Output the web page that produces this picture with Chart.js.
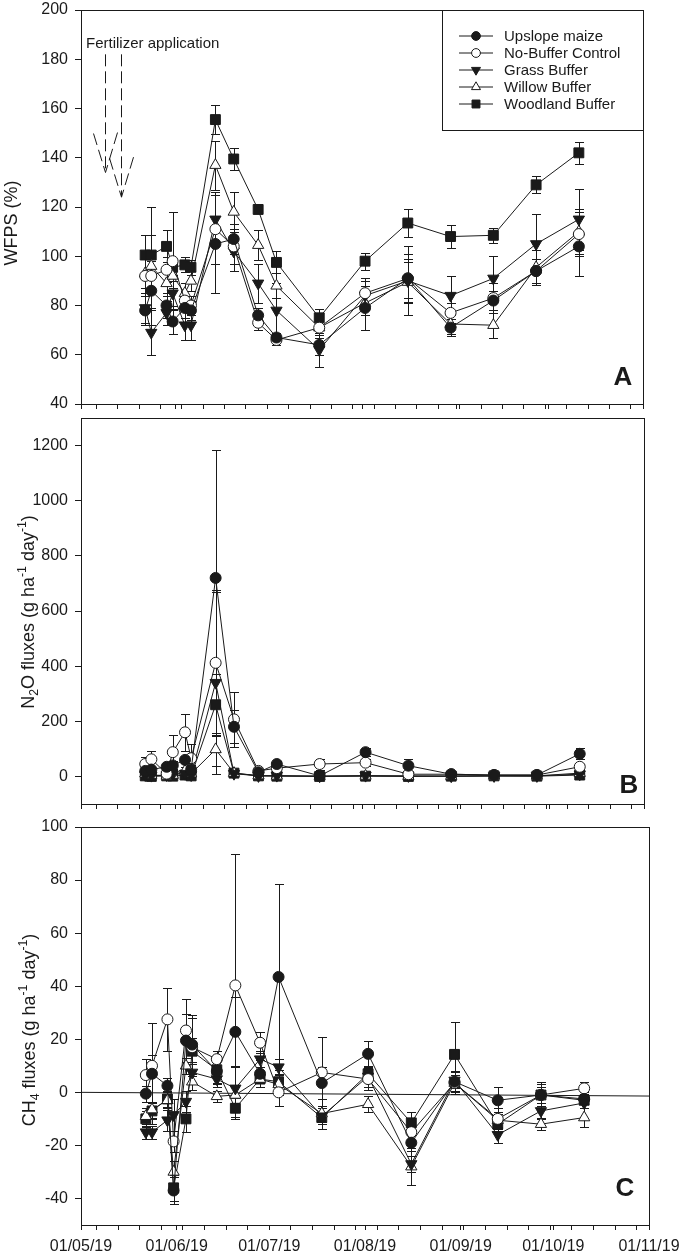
<!DOCTYPE html>
<html>
<head>
<meta charset="utf-8">
<title>WFPS, N2O and CH4 fluxes</title>
<script src="https://cdn.jsdelivr.net/npm/chart.js@4.4.1/dist/chart.umd.min.js"></script>
<style>
  body { margin: 0; background: #fff; }
  #wrap { position: relative; width: 680px; height: 1256px; }
  canvas { position: absolute; left: 0; }
</style>
</head>
<body>
<div id="wrap">
  <canvas id="chartA" width="680" height="412" style="top:0px"></canvas>
  <canvas id="chartB" width="680" height="402" style="top:410px"></canvas>
  <canvas id="chartC" width="680" height="444" style="top:812px"></canvas>
</div>
<script>
// DATA
const seriesNames = ["Upslope maize", "No-Buffer Control", "Grass Buffer", "Willow Buffer", "Woodland Buffer"];
const sampleDates = ["2019-05-22", "2019-05-24", "2019-05-29", "2019-05-31", "2019-06-04", "2019-06-06",
  "2019-06-14", "2019-06-20", "2019-06-28", "2019-07-04", "2019-07-18", "2019-08-02", "2019-08-16",
  "2019-08-30", "2019-09-13", "2019-09-27", "2019-10-11"];
const monthDates = ["2019-05-01", "2019-06-01", "2019-07-01", "2019-08-01", "2019-09-01", "2019-10-01", "2019-11-01"];
const monthLabels = ["01/05/19", "01/06/19", "01/07/19", "01/08/19", "01/09/19", "01/10/19", "01/11/19"];

// A: WFPS (%)
const upslopeA = [78, 86, 80, 73.5, 79, 78, 105, 107, 76, 67, 64, 79, 91, 71, 82, 94, 104];
const upslopeAErr = [6, 7, 5, 5, 4, 4, 20, 6, 3, 2, 4, 9, 8, 3.5, 4, 5, 12];
const noBufferA = [92, 92, 94.5, 98, 82, 80, 111, 104, 73, 66, 71, 85, 91, 77, 83, 94, 109];
const noBufferAErr = [7, 6, 5, 20, 4, 4, 14, 7, 3, 2, 4, 6, 10, 4, 6, 5, 9];
const grassA = [79, 69, 77, 85, 72, 72, 115, 102, 89, 78, 62, 84, 90, 84, 91, 105, 115];
const grassAErr = [6, 9, 5, 5, 6, 6, 11, 8, 8, 11, 7, 6, 14, 8, 9, 12, 12.5];
const willowA = [93, 96, 89, 92, 85, 90, 137, 118, 104.5, 88, 71, 81, 89.5, 72.5, 72, 95.5, 110];
const willowAErr = [6, 24, 5, 5, 4, 4, 10, 8, 6, 5, 4, 5, 8, 4, 5, 7, 9];
const woodlandA = [100.5, 100.5, 104, 95.5, 96.5, 95.5, 155.5, 139.5, 119, 97.5, 75, 98, 113.5, 108, 108.5, 129, 142];
const woodlandAErr = [8, 8, 6.5, 3, 3, 3, 6, 4.5, 1.5, 4.5, 3.5, 3.5, 5.5, 4.5, 3, 3.5, 4.5];
const ticksA = [40, 60, 80, 100, 120, 140, 160, 180, 200];

// B: N2O fluxes
const upslopeB = [20, 25, 35, 40, 60, 25, 720, 180, 15, 45, 2, 88, 39, 8, 5, 5, 82];
const upslopeBErr = [10, 10, 10, 15, 10, 15, 465, 60, 5, 10, 3, 15, 25, 5, 4, 4, 20];
const noBufferB = [45, 62, 10, 88, 160, 66, 412, 207, 20, 30, 45, 50, 8, 8, 5, 5, 35];
const noBufferBErr = [25, 30, 5, 62, 68, 50, 265, 100, 5, 8, 20, 12, 5, 4, 4, 4, 10];
const grassB = [5, 3, 5, 8, 10, 5, 340, 10, 2, 3, 1, 3, 2, 1, 2, 2, 8];
const grassBErr = [5, 5, 5, 5, 5, 5, 330, 5, 2, 2, 2, 3, 3, 2, 2, 2, 5];
const willowB = [10, 5, 2, 5, 20, 10, 98, 12, 3, 2, 1, 2, 1, 1, 2, 2, 12];
const willowBErr = [8, 5, 3, 5, 15, 8, 60, 5, 2, 2, 2, 2, 2, 2, 2, 2, 6];
const woodlandB = [2, 0, 2, 1, 5, 2, 260, 12, 2, 1, 0, 1, 0, 1, 2, 1, 5];
const woodlandBErr = [5, 5, 5, 5, 5, 5, 110, 8, 2, 2, 2, 2, 2, 2, 2, 2, 4];
const ticksB = [0, 200, 400, 600, 800, 1000, 1200];

// C: CH4 fluxes
const upslopeC = [-0.5, 7, 2.5, -37, 19.5, 18, 8, 22.8, 7, 43.5, 3.5, 14.5, -19, 4, -3, -1, -2.5];
const upslopeCErr = [3, 19, 3, 5, 10, 11, 5, 13, 5, 35, 6, 5, 3, 4, 5, 3, 2];
const noBufferC = [6.5, 10, 27.5, -18.5, 23.3, 17, 12.5, 40.3, 18.7, 0, 7.5, 5, -15, 3.5, -10, -1, 1.5];
const noBufferCErr = [6, 4, 12, 4, 11.7, 11, 3, 49.5, 4, 5, 13.5, 4, 5, 4, 4, 4, 2.5];
const grassC = [-15, -15, -10.5, -8.5, -3.5, 7.5, 5, 1.5, 12.5, 9.5, -9, 6, -27, 4.5, -16, -7, -4];
const grassCErr = [2.5, 2.5, 4, 6, 4, 4, 3, 8, 3, 3, 3, 4, 3, 3, 3, 3, 2];
const willowC = [-9, -6.5, -3, -30, 10, 4, -1.5, -1, 5, 3, -8, -4.5, -28, 3.5, -10.5, -12, -9.5];
const willowCErr = [3, 3, 3, 4, 3, 3, 2, 3, 3, 4, 3, 3, 7, 3, 3, 2.3, 3.5];
const woodlandC = [-10, -7, -2.5, -36, -10, 15.5, 8.5, -6, 5, 4, -9.5, 7, -11.5, 14.3, -12, -1, -3];
const woodlandCErr = [3, 3, 3, 5, 5, 5, 5, 4, 3, 3, 4.5, 3, 4, 12.3, 3, 5, 3];
const trendDates = ["2019-05-01", "2019-11-01"];
const trendC = [0, -1.4];
const ticksC = [-40, -20, 0, 20, 40, 60, 80, 100];

// fertilizer arrows (dates, arrow top and tip in WFPS units)
const fertDates = ["2019-05-09", "2019-05-14"];
const fertTop = 182;
const fertTips = [134, 124];

// HELPERS
const FONT = "'Liberation Sans', Arial, Helvetica, sans-serif";
const INK = "#1a1a1a";
const DAY = 86400000;
const START = Date.UTC(2019, 4, 1);
function dayOf(s) {
  const p = s.split("-").map(Number);
  return (Date.UTC(p[0], p[1] - 1, p[2]) - START) / DAY;
}
const sampleDays = sampleDates.map(dayOf);
const monthDays = monthDates.map(dayOf);
const xMax = monthDays[monthDays.length - 1];

// weekly minor ticks (mondays) plus month ticks
let xTickDays = monthDays.slice();
for (let d = 5; d < xMax; d += 7) {
  if (monthDays.indexOf(d) < 0) xTickDays.push(d);
}
xTickDays.sort((a, b) => a - b);

const styles = [
  { pointStyle: "circle", rotation: 0, radius: 5.5, fill: INK },
  { pointStyle: "circle", rotation: 0, radius: 5.5, fill: "#fff" },
  { pointStyle: "triangle", rotation: 180, radius: 6.5, fill: INK },
  { pointStyle: "triangle", rotation: 0, radius: 6.5, fill: "#fff" },
  { pointStyle: "rect", rotation: 0, radius: 7, fill: INK },
];

function buildSets(valuesList, errList) {
  return valuesList.map((vals, k) => ({
    label: seriesNames[k],
    data: sampleDays.map((d, i) => ({ x: d, y: vals[i] })),
    errors: errList[k],
    borderColor: INK,
    borderWidth: 1,
    pointStyle: styles[k].pointStyle,
    pointRotation: styles[k].rotation,
    pointRadius: styles[k].radius,
    pointHoverRadius: styles[k].radius,
    pointBackgroundColor: styles[k].fill,
    pointBorderColor: INK,
    pointBorderWidth: 1,
    tension: 0,
    fill: false,
  }));
}

function drawVTitle(ctx, parts, cx, cy, size) {
  ctx.save();
  ctx.translate(cx, cy);
  ctx.rotate(-Math.PI / 2);
  let total = 0;
  parts.forEach((p) => {
    ctx.font = (p.s ? size * 0.68 : size) + "px " + FONT;
    p.w = ctx.measureText(p.t).width;
    total += p.w;
  });
  let x = -total / 2;
  ctx.textBaseline = "middle";
  ctx.textAlign = "left";
  ctx.fillStyle = INK;
  parts.forEach((p) => {
    ctx.font = (p.s ? size * 0.68 : size) + "px " + FONT;
    const dy = p.s === "sub" ? size * 0.3 : p.s === "sup" ? -size * 0.38 : 0;
    ctx.fillText(p.t, x, dy);
    x += p.w;
  });
  ctx.restore();
}

function drawMarker(ctx, st, x, y, r) {
  ctx.fillStyle = st.fill;
  ctx.strokeStyle = INK;
  ctx.lineWidth = 1;
  Chart.helpers.drawPoint(ctx, { pointStyle: st.pointStyle, rotation: st.rotation, radius: r, borderWidth: 1 }, x, y);
}

// PLUGIN: error bars, frame, letters, titles, legend, arrows
const panelPlugin = {
  id: "panel",
  beforeDatasetsDraw(chart) {
    const ctx = chart.ctx;
    const ys = chart.scales.y;
    ctx.save();
    ctx.strokeStyle = INK;
    ctx.lineWidth = 1;
    chart.data.datasets.forEach((ds, di) => {
      if (!ds.errors) return;
      const meta = chart.getDatasetMeta(di);
      meta.data.forEach((pt, i) => {
        const v = ds.data[i].y;
        const e = ds.errors[i];
        const x = Math.round(pt.x) + 0.5;
        const y1 = Math.round(ys.getPixelForValue(v + e)) + 0.5;
        const y2 = Math.round(ys.getPixelForValue(v - e)) + 0.5;
        ctx.beginPath();
        ctx.moveTo(x, y1); ctx.lineTo(x, y2);
        ctx.moveTo(x - 4.5, y1); ctx.lineTo(x + 4.5, y1);
        ctx.moveTo(x - 4.5, y2); ctx.lineTo(x + 4.5, y2);
        ctx.stroke();
      });
    });
    ctx.restore();
  },
  afterDraw(chart, args, opts) {
    const ctx = chart.ctx;
    const a = chart.chartArea;
    ctx.save();
    // frame
    ctx.strokeStyle = INK;
    ctx.lineWidth = 1;
    ctx.strokeRect(Math.round(a.left) + 0.5, Math.round(a.top) + 0.5, Math.round(a.right - a.left), Math.round(a.bottom - a.top));
    // panel letter
    ctx.fillStyle = INK;
    ctx.font = "bold 26px " + FONT;
    ctx.textAlign = "center";
    ctx.textBaseline = "middle";
    ctx.fillText(opts.letter, a.right + opts.letterDx, a.bottom + opts.letterDy);
    // y title
    drawVTitle(ctx, opts.title, opts.titleX, opts.titleY, 18);

    if (opts.legend) {
      const bx = a.right - 201, by = a.top, bw = 201, bh = 120;
      ctx.strokeRect(Math.round(bx) + 0.5, Math.round(by) + 0.5, bw, bh);
      seriesNames.forEach((name, k) => {
        const ry = by + 26 + k * 17;
        ctx.beginPath();
        ctx.moveTo(bx + 17, ry); ctx.lineTo(bx + 51, ry);
        ctx.strokeStyle = INK;
        ctx.stroke();
        drawMarker(ctx, styles[k], bx + 34, ry, styles[k].radius * 0.8);
        ctx.fillStyle = INK;
        ctx.font = "15px " + FONT;
        ctx.textAlign = "left";
        ctx.textBaseline = "middle";
        ctx.fillText(name, bx + 62, ry + 1);
      });
    }

    if (opts.fertilizer) {
      const xs = chart.scales.x, ys = chart.scales.y;
      ctx.fillStyle = INK;
      ctx.font = "15px " + FONT;
      ctx.textAlign = "left";
      ctx.textBaseline = "alphabetic";
      ctx.fillText("Fertilizer application", a.left + 5, a.top + 38);
      ctx.strokeStyle = INK;
      ctx.lineWidth = 1;
      ctx.setLineDash([12, 5]);
      fertDates.forEach((d, i) => {
        const x = Math.round(xs.getPixelForValue(dayOf(d))) + 0.5;
        const yt = ys.getPixelForValue(fertTop);
        const yb = ys.getPixelForValue(fertTips[i]);
        ctx.beginPath();
        ctx.moveTo(x, yt); ctx.lineTo(x, yb);
        ctx.stroke();
        ctx.beginPath();
        ctx.moveTo(x - 12, yb - 39); ctx.lineTo(x, yb);
        ctx.stroke();
        ctx.beginPath();
        ctx.moveTo(x + 12, yb - 40); ctx.lineTo(x, yb);
        ctx.stroke();
      });
      ctx.setLineDash([]);
    }
    ctx.restore();
  },
};

function xScale(showLabels, height) {
  return {
    type: "linear",
    min: 0,
    max: xMax,
    afterBuildTicks: (ax) => { ax.ticks = xTickDays.map((v) => ({ value: v })); },
    afterFit: (sc) => { sc.height = height; sc.paddingLeft = 0; sc.paddingRight = 0; },
    grid: { drawOnChartArea: false, drawTicks: true, tickLength: 5, tickColor: INK },
    border: { display: true, color: INK, width: 1 },
    ticks: {
      autoSkip: false, maxRotation: 0, minRotation: 0, padding: 7,
      color: INK, font: { family: FONT, size: 16 },
      callback: (v) => {
        const i = monthDays.indexOf(v);
        return showLabels && i >= 0 ? monthLabels[i] : "";
      },
    },
  };
}

function yScale(min, max, tickList) {
  return {
    type: "linear",
    min: min,
    max: max,
    afterBuildTicks: (ax) => { ax.ticks = tickList.map((v) => ({ value: v })); },
    afterFit: (sc) => { sc.width = 81; sc.paddingTop = 0; sc.paddingBottom = 0; },
    grid: { drawOnChartArea: false, drawTicks: true, tickLength: 6, tickColor: INK },
    border: { display: true, color: INK, width: 1 },
    ticks: { padding: 7, color: INK, font: { family: FONT, size: 16 }, callback: (v) => String(v) },
  };
}

function makeChart(id, datasets, yCfg, xCfg, padding, panelOpts) {
  return new Chart(document.getElementById(id), {
    type: "line",
    data: { datasets: datasets },
    plugins: [panelPlugin],
    options: {
      responsive: false,
      animation: false,
      events: [],
      layout: { padding: padding },
      scales: { x: xCfg, y: yCfg },
      plugins: {
        legend: { display: false },
        tooltip: { enabled: false },
        panel: panelOpts,
      },
    },
  });
}

// CHARTS
makeChart("chartA",
  buildSets([upslopeA, noBufferA, grassA, willowA, woodlandA],
            [upslopeAErr, noBufferAErr, grassAErr, willowAErr, woodlandAErr]),
  yScale(40, 200, ticksA), xScale(false, 6),
  { left: 0, right: 37, top: 10, bottom: 1 },
  { letter: "A", letterDx: -20, letterDy: -26, title: [{ t: "WFPS (%)" }], titleX: 12, titleY: 223,
    legend: true, fertilizer: true });

makeChart("chartB",
  buildSets([upslopeB, noBufferB, grassB, willowB, woodlandB],
            [upslopeBErr, noBufferBErr, grassBErr, willowBErr, woodlandBErr]),
  yScale(-100, 1300, ticksB), xScale(false, 5),
  { left: 0, right: 36, top: 2, bottom: 0 },
  { letter: "B", letterDx: -15, letterDy: -18,
    title: [{ t: "N" }, { t: "2", s: "sub" }, { t: "O fluxes (g ha" }, { t: "-1", s: "sup" }, { t: " day" }, { t: "-1", s: "sup" }, { t: ")" }],
    titleX: 29, titleY: 202 });

const setsC = buildSets([upslopeC, noBufferC, grassC, willowC, woodlandC],
                        [upslopeCErr, noBufferCErr, grassCErr, willowCErr, woodlandCErr]);
setsC.push({
  label: "trend",
  data: trendDates.map((d, i) => ({ x: dayOf(d), y: trendC[i] })),
  borderColor: INK, borderWidth: 1, pointRadius: 0, tension: 0, fill: false, order: 10,
});
makeChart("chartC", setsC,
  yScale(-50, 100, ticksC), xScale(true, 31),
  { left: 0, right: 31, top: 15, bottom: 0 },
  { letter: "C", letterDx: -24, letterDy: -36,
    title: [{ t: "CH" }, { t: "4", s: "sub" }, { t: " fluxes (g ha" }, { t: "-1", s: "sup" }, { t: " day" }, { t: "-1", s: "sup" }, { t: ")" }],
    titleX: 30, titleY: 218 });
</script>
</body>
</html>
